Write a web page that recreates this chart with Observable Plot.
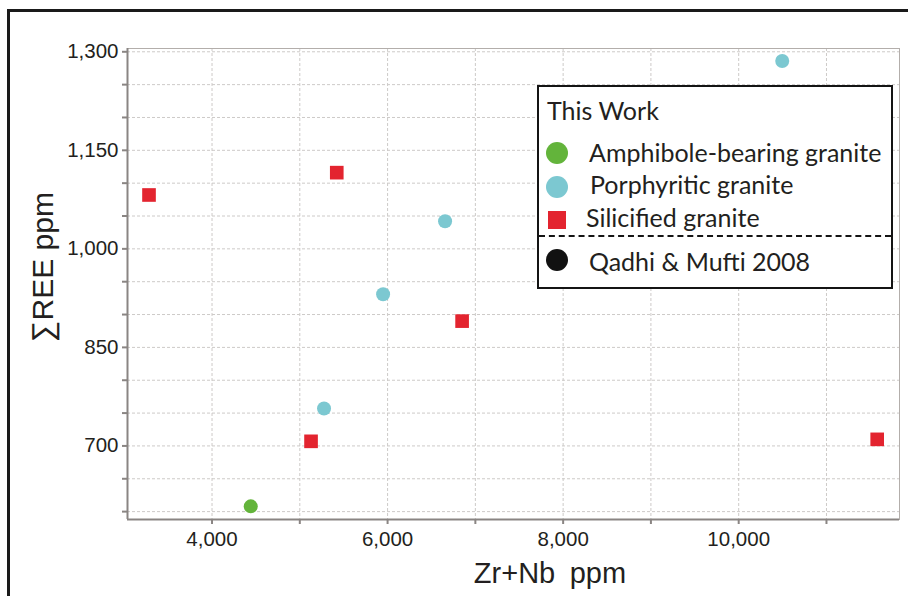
<!DOCTYPE html>
<html>
<head>
<meta charset="utf-8">
<script src="https://cdn.jsdelivr.net/npm/d3@7"></script>
<script src="https://cdn.jsdelivr.net/npm/@observablehq/plot@0.6"></script>
<style>
  html, body { margin: 0; padding: 0; background: #fff; }
  #wrap { position: relative; width: 908px; height: 596px; overflow: hidden; background: #fff; }
  #outer { position: absolute; left: 7px; top: 9px; width: 1000px; height: 1000px; border-left: 3px solid #1a1a1a; border-top: 3px solid #1a1a1a; box-sizing: border-box; }
  #chart { position: absolute; left: 0; top: 0; }
  .lbl { position: absolute; font-family: "Liberation Sans", Arial, sans-serif; color: #231f20; white-space: pre; line-height: 1; }
  #xlabel { left: 0; width: 1100px; top: 559px; font-size: 29px; text-align: center; }
  #ylabel { font-size: 30px; left: 43px; top: 267px; transform: translate(-50%, -50%) rotate(-90deg); }
  #legend { position: absolute; left: 537px; top: 85px; width: 356px; height: 204px; border: 2px solid #141414; background: #fff; box-sizing: border-box; font-family: Lato, "Open Sans", sans-serif; color: #231f20; }
  #legend .t { position: absolute; font-size: 25px; line-height: 1; white-space: nowrap; }
  #legend .sym { position: absolute; }
  #legend .dash { position: absolute; left: 0; right: 0; top: 148px; border-top: 2px dashed #141414; }
</style>
</head>
<body>
<div id="wrap">
  <div id="outer"></div>
  <div id="chart"></div>
  <div class="lbl" id="xlabel"></div>
  <div class="lbl" id="ylabel"></div>
  <div id="legend"></div>
</div>
<script>
// ---- data ----
const seriesNames = ["Amphibole-bearing granite", "Porphyritic granite", "Silicified granite", "Qadhi & Mufti 2008"];
const seriesColors = ["#63b43b", "#7cc8d1", "#e3242f", "#111111"];
const seriesSymbols = ["circle", "circle", "square", "circle"];

const amphiboleX = [4441];
const amphiboleY = [608];

const porphyriticX = [10496, 6655, 5949, 5276];
const porphyriticY = [1286, 1042, 931, 757];

const silicifiedX = [3282, 5421, 6849, 5128, 11578];
const silicifiedY = [1082, 1116, 890, 707, 710];

const xTicks = [4000, 5000, 6000, 7000, 8000, 9000, 10000, 11000];
const xTickLabels = [4000, 6000, 8000, 10000];
const yTicks = [600, 650, 700, 750, 800, 850, 900, 950, 1000, 1050, 1100, 1150, 1200, 1250, 1300];
const yTickLabels = [700, 850, 1000, 1150, 1300];

const xDomain = [3037, 11832];
const yDomain = [588, 1305];

const xTitle = "Zr+Nb\u2002ppm";
const yTitle = "\u2211REE ppm";
const legendTitle = "This Work";

// ---- build ----
const toPts = (xs, ys) => xs.map((x, i) => ({x, y: ys[i]}));
const amph = toPts(amphiboleX, amphiboleY);
const porph = toPts(porphyriticX, porphyriticY);
const sil = toPts(silicifiedX, silicifiedY);
const fmt = d3.format(",");

const gridStyle = {stroke: "#cdcac8", strokeOpacity: 1, strokeDasharray: "3,2", strokeWidth: 1};
const axisColor = "#8a8583";

const plot = Plot.plot({
  width: 908,
  height: 596,
  marginLeft: 127,
  marginRight: 9,
  marginTop: 48,
  marginBottom: 77,
  style: {fontFamily: "'Liberation Sans', Arial, sans-serif", color: "#231f20", background: "transparent"},
  x: {domain: xDomain},
  y: {domain: yDomain},
  marks: [
    Plot.gridX(xTicks, gridStyle),
    Plot.gridY(yTicks, gridStyle),
    Plot.frame({stroke: "#b3aeab", strokeWidth: 1}),
    Plot.ruleX([xDomain[0]], {stroke: axisColor, strokeWidth: 2}),
    Plot.ruleY([yDomain[0]], {stroke: axisColor, strokeWidth: 2}),
    Plot.axisX(xTicks, {
      tickSize: 5, tickPadding: 7, stroke: axisColor, strokeWidth: 2,
      tickFormat: d => xTickLabels.includes(d) ? fmt(d) : "",
      label: null, fill: "#231f20"
    }),
    Plot.axisY(yTicks, {
      tickSize: 5, tickPadding: 4, stroke: axisColor, strokeWidth: 2,
      tickFormat: d => yTickLabels.includes(d) ? fmt(d) : "",
      label: null, fill: "#231f20"
    }),
    Plot.dot(amph, {x: "x", y: "y", r: 7, symbol: seriesSymbols[0], fill: seriesColors[0], stroke: "none"}),
    Plot.dot(porph, {x: "x", y: "y", r: 7, symbol: seriesSymbols[1], fill: seriesColors[1], stroke: "none"}),
    Plot.dot(sil, {x: "x", y: "y", r: 7.7, symbol: seriesSymbols[2], fill: seriesColors[2], stroke: "none"})
  ]
});
d3.select(plot).selectAll("text").style("font-size", "20.5px");
document.getElementById("chart").appendChild(plot);

document.getElementById("xlabel").textContent = xTitle;
document.getElementById("ylabel").textContent = yTitle;

// ---- legend ----
const lg = document.getElementById("legend");
const addText = (txt, left, top) => {
  const d = document.createElement("div");
  d.className = "t";
  d.textContent = txt;
  d.style.left = left + "px";
  d.style.top = top + "px";
  lg.appendChild(d);
};
const addSym = (i, cx, cy) => {
  const d = document.createElement("div");
  d.className = "sym";
  const s = seriesSymbols[i] === "square" ? 18 : 22;
  d.style.width = s + "px";
  d.style.height = s + "px";
  d.style.left = (cx - s / 2) + "px";
  d.style.top = (cy - s / 2) + "px";
  d.style.background = seriesColors[i];
  d.style.borderRadius = seriesSymbols[i] === "circle" ? "50%" : "0";
  lg.appendChild(d);
};
// positions relative to legend box (left 537, top 85)
addText(legendTitle, 8, 11);
const rows = [
  {cy: 66, ty: 53, tx: 50},
  {cy: 100, ty: 85, tx: 51},
  {cy: 133, ty: 118, tx: 47},
  {cy: 173, ty: 162, tx: 50}
];
rows.forEach((r, i) => {
  addSym(i, 18, r.cy);
  addText(seriesNames[i], r.tx, r.ty);
});
const dash = document.createElement("div");
dash.className = "dash";
lg.appendChild(dash);
</script>
</body>
</html>
